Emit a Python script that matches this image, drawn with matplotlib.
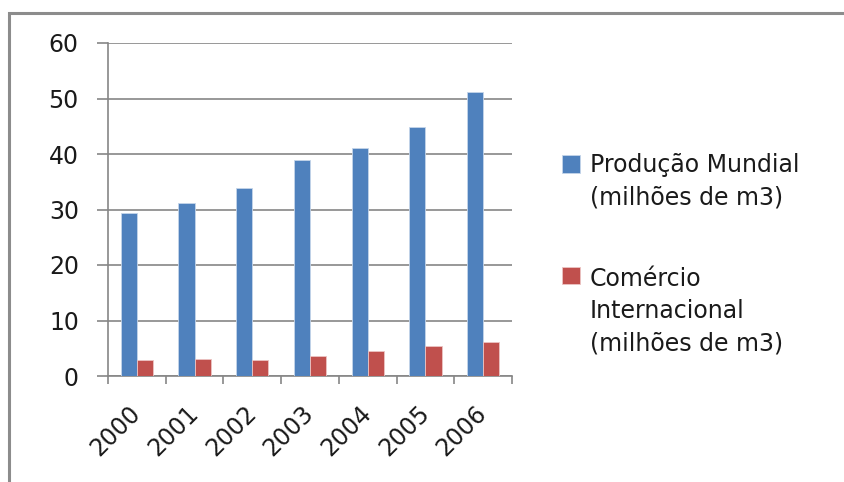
import numpy as np
import matplotlib.pyplot as plt
from matplotlib.patches import Rectangle

# dados
anos = ["2000", "2001", "2002", "2003", "2004", "2005", "2006"]
producao = [29.3, 31.1, 33.9, 39.0, 41.1, 44.8, 51.1]
comercio = [2.8, 3.1, 2.8, 3.6, 4.5, 5.4, 6.1]
nome_producao = "Produção Mundial\n(milhões de m3)"
nome_comercio = "Comércio\nInternacional\n(milhões de m3)"

plt.rcParams['font.family'] = ['DejaVu Sans']
cinza = "#868686"
tam = 17

fig = plt.figure(figsize=(8.45, 4.82), dpi=100)
W, H = 845, 482

# moldura do grafico
fig.patches.append(Rectangle((9 / W, -0.1), 1.2, 1 - 13 / H + 0.1, transform=fig.transFigure,
                             fill=False, edgecolor="#8c8c8c", linewidth=2.2))

ax = fig.add_axes([108 / W, 1 - 376 / H, (512 - 108) / W, (376 - 43) / H])

x = np.arange(len(anos))
larg = 0.28
ax.bar(x - larg / 2, producao, larg, color="#4F81BD", edgecolor="#c5d5ea", linewidth=0.6,
       label=nome_producao, zorder=3)
ax.bar(x + larg / 2, comercio, larg, color="#C0504D", edgecolor="#ecc4c3", linewidth=0.6,
       label=nome_comercio, zorder=3)

ax.set_xlim(-0.5, len(anos) - 0.5)
ax.set_ylim(0, 60)
ax.set_yticks(range(0, 61, 10))
ax.yaxis.grid(True, color=cinza, linewidth=1.2)
ax.set_axisbelow(True)

for s in ["top", "right"]:
    ax.spines[s].set_visible(False)
for s in ["left", "bottom"]:
    ax.spines[s].set_color(cinza)
    ax.spines[s].set_linewidth(1.2)

ax.tick_params(axis="y", length=8, color=cinza, width=1.2, labelsize=tam, pad=13, labelcolor="#1a1a1a")
# marcas entre categorias
ax.set_xticks(np.arange(-0.5, len(anos) + 0.5, 1))
ax.set_xticklabels([])
ax.tick_params(axis="x", which="major", length=6, color=cinza, width=1.2)
ax.set_xticks(x, minor=True)
ax.set_xticklabels(anos, minor=True, rotation=45, ha="right", va="center",
                   rotation_mode="anchor", fontsize=tam, color="#1a1a1a")
ax.tick_params(axis="x", which="minor", length=0, pad=24)

esp = 1.42
leg = ax.legend(loc="upper left", bbox_to_anchor=(553 / W, 1 - 144 / H), bbox_transform=fig.transFigure,
                frameon=False, fontsize=tam, handlelength=0.75, handleheight=0.75, handletextpad=0.4,
                labelspacing=2.45, borderaxespad=0)
for t, h in zip(leg.get_texts(), leg.legend_handles):
    t.set_linespacing(esp)
    t.set_color("#1a1a1a")
    # quadrado alinhado com a primeira linha do texto
    n = t.get_text().count("\n")
    h.set_y(h.get_y() + n / 2 * tam * esp * 1.11)

fig.savefig("out.png", dpi=100)
